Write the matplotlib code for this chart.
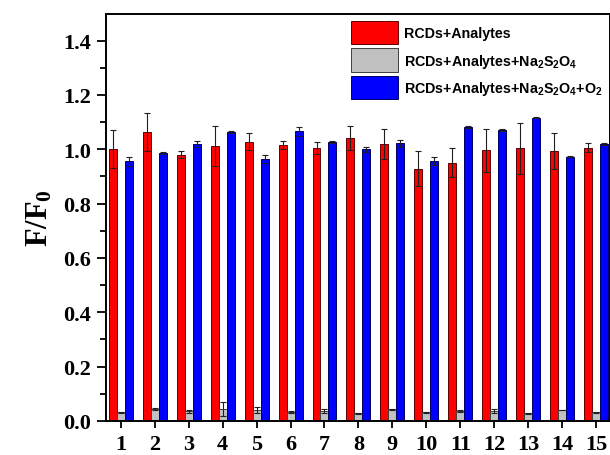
import matplotlib
matplotlib.use("Agg")
import matplotlib.pyplot as plt
import numpy as np

categories = [str(i) for i in range(1, 16)]
red_vals = [1.000, 1.064, 0.980, 1.012, 1.028, 1.016, 1.004, 1.042, 1.020, 0.929, 0.951, 0.996, 1.004, 0.993, 1.006]
red_err = [0.070, 0.070, 0.013, 0.075, 0.032, 0.015, 0.022, 0.044, 0.054, 0.064, 0.053, 0.080, 0.094, 0.067, 0.016]
gray_vals = [0.032, 0.044, 0.036, 0.044, 0.040, 0.034, 0.037, 0.029, 0.043, 0.032, 0.037, 0.037, 0.028, 0.040, 0.032]
gray_err = [0.002, 0.002, 0.006, 0.025, 0.010, 0.003, 0.007, 0.002, 0.001, 0.001, 0.004, 0.008, 0.001, 0.001, 0.001]
blue_vals = [0.956, 0.986, 1.020, 1.064, 0.964, 1.066, 1.028, 1.000, 1.022, 0.957, 1.082, 1.070, 1.117, 0.973, 1.020]
blue_err = [0.016, 0.003, 0.010, 0.005, 0.015, 0.018, 0.003, 0.010, 0.013, 0.016, 0.003, 0.003, 0.003, 0.003, 0.004]
labels = ["RCDs+Analytes",
          r"RCDs+Analytes+$\mathregular{Na_2S_2O_4}$",
          r"RCDs+Analytes+$\mathregular{Na_2S_2O_4}$+$\mathregular{O_2}$"]

fig = plt.figure(figsize=(6.10, 4.56), dpi=100)
ax = fig.add_axes([0.1738, 0.0746, 0.8262, 0.8936])

x = np.arange(1, 16)
w = 0.235
ekw = dict(ecolor="#202020", elinewidth=0.8, capsize=2.2, capthick=0.8)
ax.bar(x - w, red_vals, w, yerr=red_err, color="#ff0000", edgecolor="#600000", linewidth=0.7, error_kw=ekw, label=labels[0])
ax.bar(x, gray_vals, w, yerr=gray_err, color="#c0c0c0", edgecolor="#404040", linewidth=0.7, error_kw=ekw, label=labels[1])
ax.bar(x + w, blue_vals, w, yerr=blue_err, color="#0000ff", edgecolor="#000060", linewidth=0.7, error_kw=ekw, label=labels[2])

ax.set_xlim(0.565, 15.41)
ax.set_ylim(0, 1.5)
ax.set_xticks(x)
ax.set_xticklabels(categories)
ax.set_yticks(np.arange(0, 1.41, 0.2))
ax.set_yticklabels([f"{v:.1f}" for v in np.arange(0, 1.41, 0.2)])
ax.set_yticks(np.arange(0.1, 1.5, 0.2), minor=True)

for lab in ax.get_xticklabels():
    lab.set_fontfamily("Liberation Serif"); lab.set_fontweight("bold"); lab.set_fontsize(16)
for lab in ax.get_yticklabels():
    lab.set_fontfamily("Liberation Serif"); lab.set_fontweight("bold"); lab.set_fontsize(16)

ax.tick_params(axis="y", which="major", direction="out", length=6.5, width=1.3, pad=4.5)
ax.tick_params(axis="y", which="minor", direction="out", length=4, width=1.3)
ax.tick_params(axis="x", which="major", direction="out", length=5, width=1.3, pad=4.5)
ax.tick_params(top=False, right=False)
for s in ax.spines.values():
    s.set_linewidth(1.4)

ax.set_ylabel(r"$\mathregular{F/F_0}$", fontfamily="Liberation Serif", fontweight="bold", fontsize=22)
ax.yaxis.set_label_coords(-0.102, 0.5)

leg = ax.legend(loc="upper right", bbox_to_anchor=(1.0, 1.0), frameon=False,
                prop={"family": "Liberation Sans", "weight": "bold", "size": 10.3},
                handlelength=3.3, handleheight=2.15, handletextpad=0.42, labelspacing=0.28,
                borderaxespad=0.12)

fig.savefig("out.png", dpi=100)
